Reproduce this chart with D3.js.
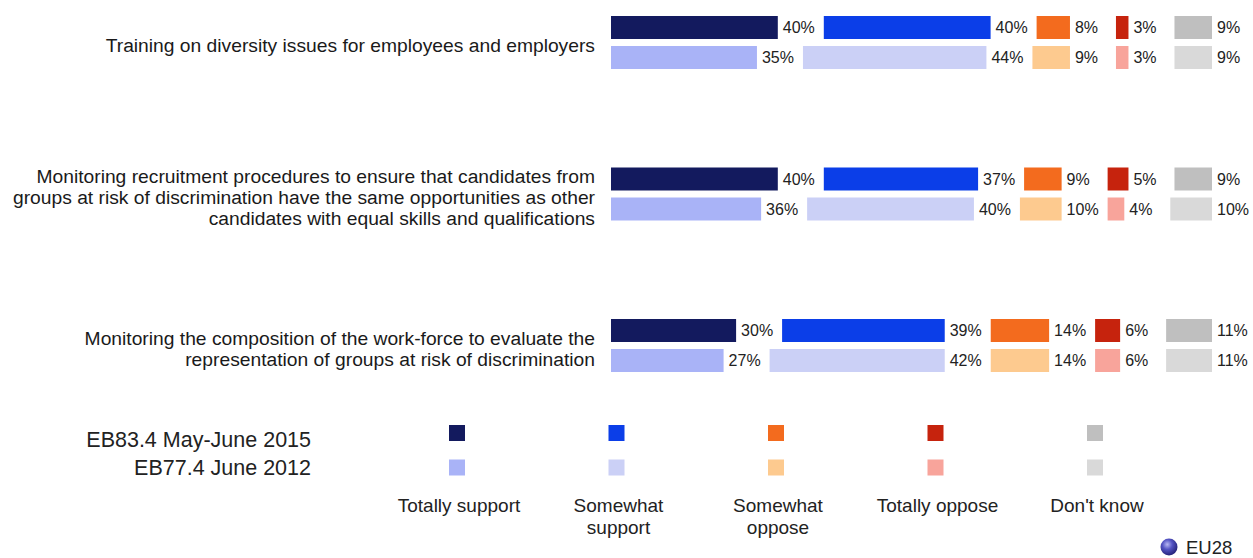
<!DOCTYPE html>
<html>
<head>
<meta charset="utf-8">
<script src="https://cdn.jsdelivr.net/npm/d3@7"></script>
<style>
  html, body { margin: 0; padding: 0; background: #ffffff; }
  svg { display: block; font-family: "Liberation Sans", Arial, sans-serif; }
</style>
</head>
<body>
<svg id="chart" width="1253" height="558"></svg>
<script>
// Measures asked about, one label block per measure (lines already broken)
const measures = [
  ["Training on diversity issues for employees and employers"],
  ["Monitoring recruitment procedures to ensure that candidates from",
   "groups at risk of discrimination have the same opportunities as other",
   "candidates with equal skills and qualifications"],
  ["Monitoring the composition of the work-force to evaluate the",
   "representation of groups at risk of discrimination"]
];

// Answer categories
const answers = ["Totally support", "Somewhat support", "Somewhat oppose", "Totally oppose", "Don't know"];
const answerLabels = [["Totally support"], ["Somewhat", "support"], ["Somewhat", "oppose"], ["Totally oppose"], ["Don't know"]];

// Survey waves
const waves = ["EB83.4 May-June 2015", "EB77.4 June 2012"];

// Percentages per measure, in answer order
const wave2015 = [
  [40, 40, 8, 3, 9],
  [40, 37, 9, 5, 9],
  [30, 39, 14, 6, 11]
];
const wave2012 = [
  [35, 44, 9, 3, 9],
  [36, 40, 10, 4, 10],
  [27, 42, 14, 6, 11]
];

const colors2015 = ["#131a5e", "#0b3ee8", "#f36b1e", "#c6230d", "#bfbfbf"];
const colors2012 = ["#a9b3f7", "#cbd0f6", "#fdca8f", "#f8a49b", "#d9d9d9"];

const svg = d3.select("#chart");

// Layout
const barLeft = 611;
const labelGap = 46;        // room left after each segment for its value label
const barH = 23;
const rowStep = 30;
const groupTop = 16;
const groupStep = 151.5;

const x = d3.scaleLinear().domain([0, 100]).range([0, 417]);
const gy = d3.scaleLinear().domain([0, 1]).range([groupTop, groupTop + groupStep]);

const rows = [
  { values: wave2015, colors: colors2015, offset: 0 },
  { values: wave2012, colors: colors2012, offset: rowStep }
];

measures.forEach((lines, g) => {
  const top = gy(g);
  const blockMid = top + (rowStep + barH) / 2 + 3;

  // Measure label, right aligned beside its bars
  const lab = svg.append("text")
    .attr("text-anchor", "end")
    .attr("font-size", 19.25)
    .attr("fill", "#1a1a1a");
  lines.forEach((ln, i) => {
    lab.append("tspan")
      .attr("x", 595)
      .attr("y", blockMid + (i - (lines.length - 1) / 2) * 21)
      .attr("dy", "0.35em")
      .text(ln);
  });

  rows.forEach(row => {
    const vals = row.values[g];
    const starts = d3.cumsum([0].concat(vals.slice(0, -1)));
    const segs = vals.map((v, k) => ({ v, k, x0: barLeft + x(starts[k]) + k * labelGap }));
    const y = top + row.offset;

    svg.append("g").selectAll("rect")
      .data(segs)
      .join("rect")
      .attr("x", d => d.x0)
      .attr("y", y)
      .attr("width", d => x(d.v))
      .attr("height", barH)
      .attr("fill", d => row.colors[d.k]);

    svg.append("g").selectAll("text")
      .data(segs)
      .join("text")
      .attr("x", d => d.x0 + x(d.v) + 5)
      .attr("y", y + barH / 2)
      .attr("dy", "0.35em")
      .attr("font-size", 16)
      .attr("fill", "#222")
      .text(d => d.v + "%");
  });
});

// Legend
const lx = d3.scaleLinear().domain([0, 1]).range([457, 616.5]);

svg.append("g").selectAll("text")
  .data(waves)
  .join("text")
  .attr("x", 311)
  .attr("y", (d, i) => 439 + i * 28)
  .attr("dy", "0.35em")
  .attr("text-anchor", "end")
  .attr("font-size", 21.5)
  .attr("fill", "#222")
  .text(d => d);

answers.forEach((a, i) => {
  const cx = lx(i);
  svg.append("rect")
    .attr("x", cx - 8).attr("y", 425)
    .attr("width", 16).attr("height", 16)
    .attr("fill", colors2015[i]);
  svg.append("rect")
    .attr("x", cx - 8).attr("y", 459.5)
    .attr("width", 16).attr("height", 16)
    .attr("fill", colors2012[i]);

  const t = svg.append("text")
    .attr("text-anchor", "middle")
    .attr("font-size", 19)
    .attr("fill", "#222");
  answerLabels[i].forEach((ln, j) => {
    t.append("tspan")
      .attr("x", cx + 2)
      .attr("y", 512 + j * 22)
      .text(ln);
  });
});

// EU28 marker
const defs = svg.append("defs");
const grad = defs.append("radialGradient")
  .attr("id", "ball")
  .attr("cx", "40%").attr("cy", "35%").attr("r", "65%");
grad.append("stop").attr("offset", "0%").attr("stop-color", "#b7b7f2");
grad.append("stop").attr("offset", "45%").attr("stop-color", "#5454c4");
grad.append("stop").attr("offset", "100%").attr("stop-color", "#25237a");

svg.append("circle")
  .attr("cx", 1169).attr("cy", 547).attr("r", 8.5)
  .attr("fill", "url(#ball)");
svg.append("text")
  .attr("x", 1186).attr("y", 554)
  .attr("font-size", 18.5)
  .attr("fill", "#222")
  .text("EU28");
</script>
</body>
</html>
